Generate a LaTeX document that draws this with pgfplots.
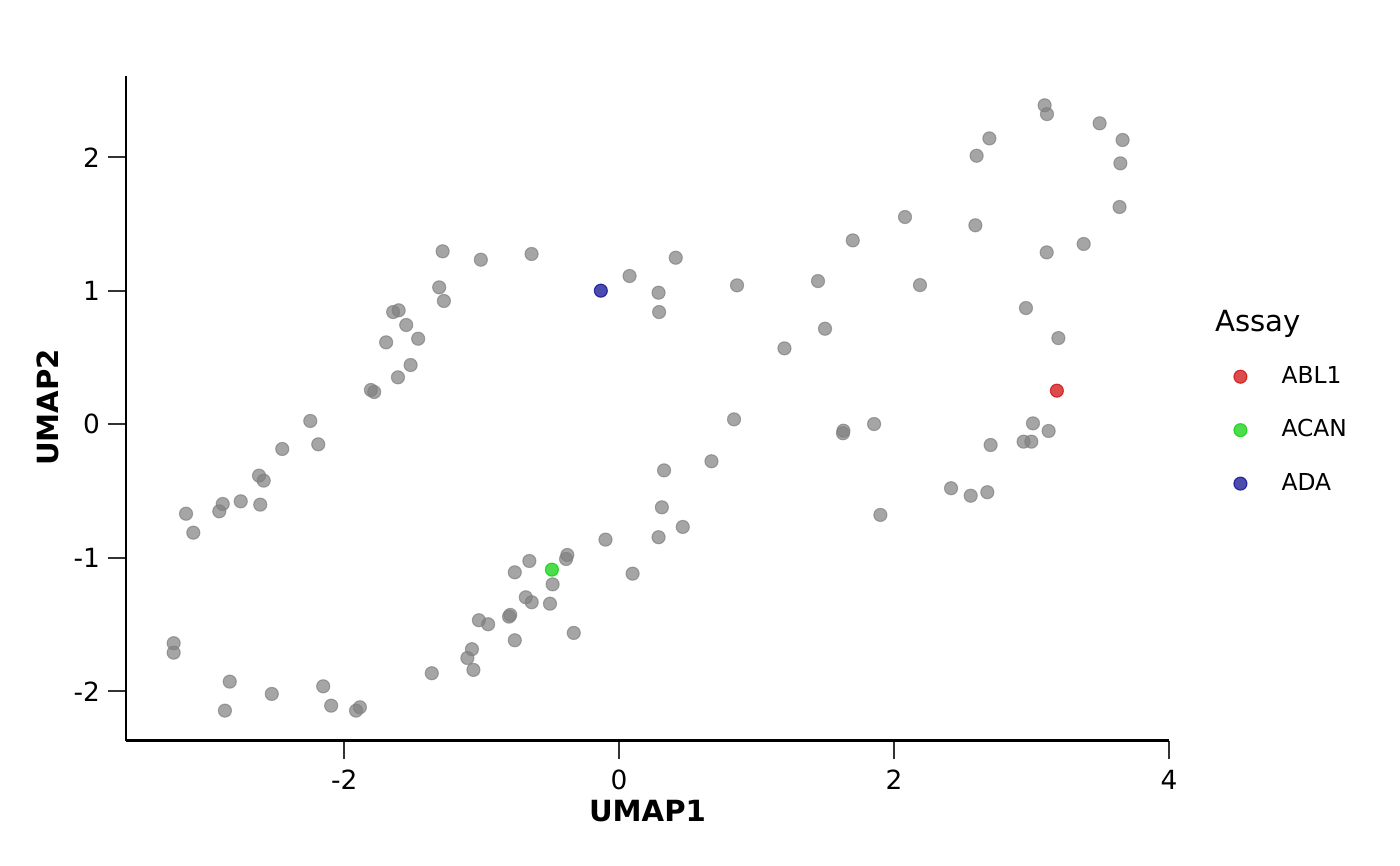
\documentclass[border=0pt]{standalone}
\usepackage{fontspec}
\setmainfont{DejaVu Sans}
\usepackage{pgfplots}
\pgfplotsset{compat=1.18}
\definecolor{pgray}{RGB}{127,127,127}
\definecolor{pred}{RGB}{205,0,0}
\definecolor{pgreen}{RGB}{0,205,0}
\definecolor{pblue}{RGB}{0,0,139}
\definecolor{tickc}{RGB}{51,51,51}
\begin{document}
\begin{tikzpicture}
\path[use as bounding box] (0,0) rectangle (504pt,311.4pt);
\begin{axis}[
  at={(45.25pt,44.82pt)}, anchor=south west,
  width=375.7pt, height=239.3pt, scale only axis,
  xmin=-3.59, xmax=4.003, ymin=-2.369, ymax=2.611,
  axis lines=left,
  axis line style={-, line width=0.75pt, black},
  tick align=outside,
  major tick length=6.5pt,
  tick style={line width=0.75pt, color=tickc},
  xtick={-2,0,2,4}, xticklabels={-2,0,2,4},
  ytick={-2,-1,0,1,2}, yticklabels={-2,-1,0,1,2},
  minor tick num=0,
  ticklabel style={font=\fontsize{9.5}{11}\selectfont, inner sep=0pt},
  xticklabel shift=4pt,
  yticklabel shift=2.6pt,
  xlabel={UMAP1}, ylabel={UMAP2},
  xlabel style={font=\bfseries\fontsize{10.5}{12}\selectfont, at={(axis description cs:0.5,-0.0895)}, anchor=north, inner sep=0pt},
  ylabel style={font=\bfseries\fontsize{10.5}{12}\selectfont, at={(axis description cs:-0.063,0.501)}, anchor=south, inner sep=0pt},
  clip=false,
  legend cell align=left,
  legend style={at={(axis description cs:1.0619,0.5632)}, anchor=north west, draw=none, fill=none,
    inner sep=0pt, outer sep=0pt, row sep=11.56pt, column sep=12.45pt,
    font=\fontsize{8.4}{10}\selectfont, nodes={inner sep=0pt}},
  legend image code/.code={\draw[#1] plot coordinates {(0pt,0pt)};},
]
\addplot[only marks, mark=*, mark size=2.35pt, mark options={draw=pgray, fill=pgray, line width=0.4pt, opacity=0.7}, forget plot] coordinates {
(-1.284,1.296) (-1.006,1.233) (-0.637,1.276) (-1.309,1.026) (-1.275,0.924)
(-1.644,0.841) (-1.604,0.854) (-1.549,0.744) (-1.462,0.641) (-1.695,0.614)
(-1.517,0.444) (-1.609,0.352) (-1.806,0.257) (-1.782,0.242) (-2.247,0.025)
(-2.189,-0.150) (-2.451,-0.185) (-2.620,-0.385) (-2.586,-0.422) (-2.753,-0.577)
(-2.611,-0.602) (-2.884,-0.597) (-2.909,-0.652) (-3.151,-0.670) (-3.098,-0.812)
(-3.241,-1.640) (-3.241,-1.711) (-2.833,-1.928) (-2.868,-2.145) (-2.527,-2.020)
(-2.153,-1.963) (-2.095,-2.108) (-1.914,-2.145) (-1.886,-2.120) (-1.363,-1.865)
(-1.104,-1.751) (-1.071,-1.685) (-1.060,-1.840) (-1.020,-1.468) (-0.953,-1.498)
(-0.801,-1.441) (-0.792,-1.428) (-0.759,-1.618) (-0.679,-1.296) (-0.636,-1.333)
(-0.503,-1.344) (-0.484,-1.199) (-0.759,-1.109) (-0.653,-1.024) (-0.386,-1.009)
(-0.377,-0.979) (-0.330,-1.563) (-0.099,-0.864) (0.098,-1.119) (0.287,-0.846)
(0.463,-0.769)
(0.076,1.111) (0.412,1.248) (0.287,0.986) (0.291,0.841) (0.858,1.041)
(1.447,1.073) (1.498,0.716) (1.203,0.569) (1.700,1.378)
(0.836,0.037) (0.672,-0.277) (0.327,-0.345) (0.311,-0.622) (1.632,-0.048)
(1.629,-0.067) (1.855,0.002) (1.901,-0.679) (2.415,-0.479) (2.558,-0.535)
(2.679,-0.509) (2.703,-0.155) (3.011,0.007) (2.943,-0.130) (2.999,-0.130)
(3.125,-0.050)
(3.096,2.390) (3.113,2.324) (3.496,2.255) (3.663,2.130) (3.647,1.955)
(3.641,1.628) (2.694,2.142) (2.601,2.012) (2.080,1.553) (2.592,1.491)
(3.380,1.351) (3.111,1.288) (2.189,1.043) (2.960,0.871) (3.196,0.646)
};
\addplot[only marks, mark=*, mark size=2.35pt, mark options={draw=pred, fill=pred, line width=0.4pt, opacity=0.7}] coordinates {(3.185,0.252)};
\addlegendentry{ABL1}
\addplot[only marks, mark=*, mark size=2.35pt, mark options={draw=pgreen, fill=pgreen, line width=0.4pt, opacity=0.7}] coordinates {(-0.489,-1.089)};
\addlegendentry{ACAN}
\addplot[only marks, mark=*, mark size=2.35pt, mark options={draw=pblue, fill=pblue, line width=0.4pt, opacity=0.7}] coordinates {(-0.133,1.001)};
\addlegendentry{ADA}
\node[anchor=base west, inner sep=0pt, font=\fontsize{10.5}{12}\selectfont] at (rel axis cs:1.0438,0.6149) {Assay};
\end{axis}
\end{tikzpicture}
\end{document}
